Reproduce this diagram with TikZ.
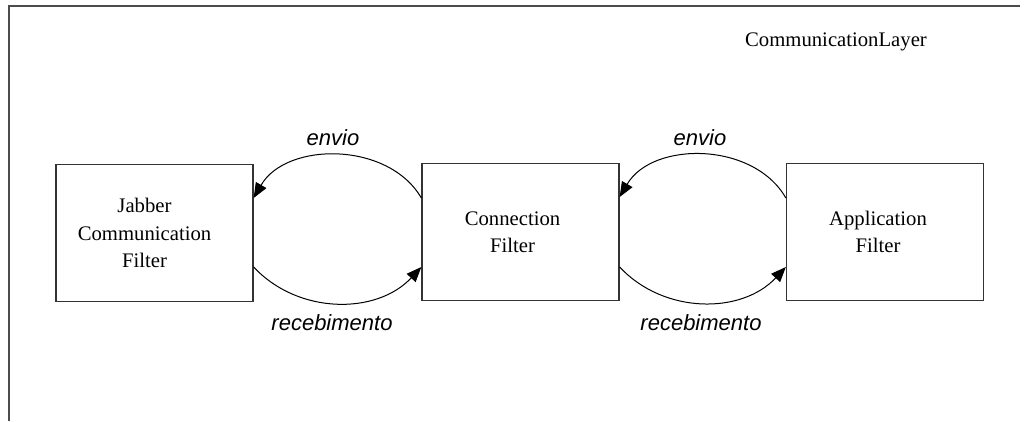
\documentclass[tikz,border=0pt]{standalone}
\usepackage{fontspec}
\setmainfont{Liberation Serif}
\newfontfamily\labelfont{Liberation Sans}
\usetikzlibrary{arrows.meta}

\begin{document}
\begin{tikzpicture}[x=1pt,y=-1pt,
  filterbox/.style={draw=black!80, line width=1.3pt, minimum width=197pt,
    minimum height=137pt, inner sep=0pt},
  boxtext/.style={font=\fontsize{20.7}{27.5}\selectfont, align=center},
  flow/.style={line width=1pt, -{Triangle[length=15pt,width=12pt]}},
  flowlabel/.style={font=\labelfont\itshape\fontsize{22}{26}\selectfont, anchor=base}]
\useasboundingbox (0,0) rectangle (1026,421);

% layer frame and its title
\draw[line width=1.8pt, black!70] (9,421) -- (9,6) -- (1020,6);
\node[font=\fontsize{20.7}{25}\selectfont, anchor=base] (layer) at (836,46) {CommunicationLayer};

% filters
\node[filterbox, label={[boxtext, xshift=-10pt]center:{Jabber\\Communication\\Filter}}] (jab) at (154.5,233) {};
\node[filterbox, label={[boxtext, xshift=-8pt]center:{Connection\\Filter}}] (conn) at (520.5,232) {};
\node[filterbox, label={[boxtext, xshift=-7pt]center:{Application\\Filter}}] (app) at (885,232) {};

% message flows between neighbouring filters
\draw[flow] ([yshift=34pt]conn.west) to[bend right=60] ([yshift=35pt]jab.east);
\draw[flow] ([yshift=-34pt]jab.east) to[bend right=47] ([yshift=-35pt]conn.west);
\draw[flow] ([yshift=34pt]app.west) to[bend right=60] ([yshift=35pt]conn.east);
\draw[flow] ([yshift=-35pt]conn.east) to[bend right=47] ([yshift=-35pt]app.west);

% flow labels
\node[flowlabel] (env1) at (333,145) {envio};
\node[flowlabel] (rec1) at (332,330) {recebimento};
\node[flowlabel] (env2) at (700,145) {envio};
\node[flowlabel] (rec2) at (701,330) {recebimento};
\end{tikzpicture}
\end{document}
